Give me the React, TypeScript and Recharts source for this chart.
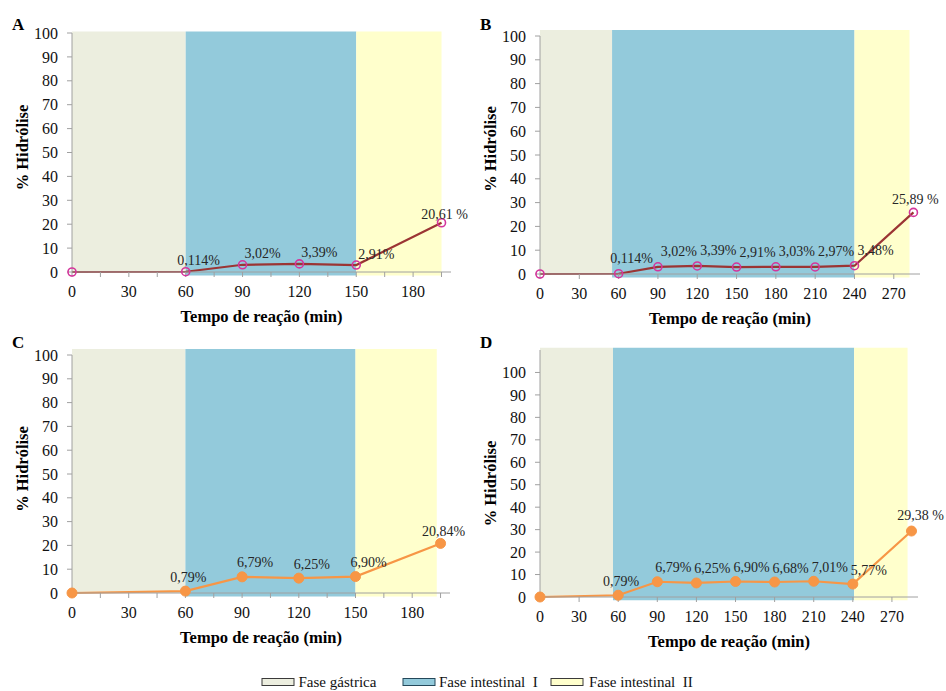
import React from 'react';
import { LineChart, Line, XAxis, YAxis, ReferenceArea } from 'recharts';

// ---------- data ----------
const timesA = [0, 60, 90, 120, 150, 195];
const hydrolysisA = [0, 0.114, 3.02, 3.39, 2.91, 20.61];
const labelsA = ['', '0,114%', '3,02%', '3,39%', '2,91%', '20,61 %'];

const timesB = [0, 60, 90, 120, 150, 180, 210, 240, 285];
const hydrolysisB = [0, 0.114, 3.02, 3.39, 2.91, 3.03, 2.97, 3.48, 25.89];
const labelsB = ['', '0,114%', '3,02%', '3,39%', '2,91%', '3,03%', '2,97%', '3,48%', '25,89 %'];

const timesC = [0, 60, 90, 120, 150, 195];
const hydrolysisC = [0, 0.79, 6.79, 6.25, 6.9, 20.84];
const labelsC = ['', '0,79%', '6,79%', '6,25%', '6,90%', '20,84%'];

const timesD = [0, 60, 90, 120, 150, 180, 210, 240, 285];
const hydrolysisD = [0, 0.79, 6.79, 6.25, 6.9, 6.68, 7.01, 5.77, 29.38];
const labelsD = ['', '0,79%', '6,79%', '6,25%', '6,90%', '6,68%', '7,01%', '5,77%', '29,38 %'];

// phase boundaries (min): gastric | intestinal I | intestinal II
const phasesA = [0, 60, 150, 195];
const phasesB = [0, 55, 240, 282];
const phasesC = [0, 60, 150, 193];
const phasesD = [0, 56, 241, 282];

const xTicksShort = [0, 15, 30, 45, 60, 75, 90, 105, 120, 135, 150, 165, 180, 195];
const xTicksLong = [0, 30, 60, 90, 120, 150, 180, 210, 240, 270];
const yTicks = [0, 10, 20, 30, 40, 50, 60, 70, 80, 90, 100];

const legendLabels = ['Fase gástrica', 'Fase intestinal  I', 'Fase intestinal  II'];
const panelLetters = ['A', 'B', 'C', 'D'];

const xTitle = 'Tempo de reação (min)';
const yTitle = '% Hidrólise';

// ---------- styles ----------
const FONT = '"Liberation Serif", "Times New Roman", serif';
const phaseFills = ['#ECEEDF', '#93CADB', '#FFFFCC'];
const phaseStrokes = ['#3a3a3a', '#24485a', '#3a3a3a'];
const AXIS = '#A0A0A0';

type PanelProps = {
  times: number[];
  values: number[];
  labels: string[];
  phases: number[];
  xTicks: number[];
  xMax: number;
  yMax: number;
  shadeTop: number;
  left: number;
  top: number;
  margin: { top: number; right: number; bottom: number; left: number };
  variant: 'red' | 'orange';
  lbl: { firstDx: number; midDx: number; lastDx: number; midDy: number; lastDy: number };
  yTitleDy: number;
};

function Panel(p: PanelProps) {
  const data = p.times.map((t, i) => ({ t, v: p.values[i] }));
  const lineColor = p.variant === 'red' ? '#9B3534' : '#F79646';
  const dot =
    p.variant === 'red'
      ? { r: 4, stroke: '#D4359C', strokeWidth: 1.6, fill: 'none' }
      : { r: 5, stroke: '#F79646', strokeWidth: 1, fill: '#F79646' };
  const n = data.length;

  const renderLabel = (props: any) => {
    const { x, y, index } = props;
    if (index === 0) return null;
    let dx = p.lbl.midDx;
    let dy = p.lbl.midDy;
    if (index === 1) dx = p.lbl.firstDx;
    if (index === n - 1) {
      dx = p.lbl.lastDx;
      dy = p.lbl.lastDy;
    }
    return (
      <text
        key={`l${index}`}
        x={x + dx}
        y={y + dy}
        textAnchor="middle"
        dominantBaseline="central"
        fontSize={14}
        fill="#262626"
        fontFamily={FONT}
        style={{ whiteSpace: 'pre' }}
      >
        {p.labels[index]}
      </text>
    );
  };

  const YLabel = (props: any) => {
    const vb = props.viewBox || {};
    const cx = vb.x + 10;
    const cy = vb.y + vb.height / 2 + p.yTitleDy;
    return (
      <text
        x={cx}
        y={cy}
        transform={`rotate(-90, ${cx}, ${cy})`}
        textAnchor="middle"
        dominantBaseline="central"
        fontSize={16.5}
        fontWeight="bold"
        fill="#000"
        fontFamily={FONT}
      >
        {yTitle}
      </text>
    );
  };

  const XLabel = (props: any) => {
    const vb = props.viewBox || {};
    return (
      <text
        x={vb.x + vb.width / 2}
        y={vb.y + vb.height}
        textAnchor="middle"
        fontSize={16.5}
        fontWeight="bold"
        fill="#000"
        fontFamily={FONT}
      >
        {xTitle}
      </text>
    );
  };

  return (
    <div style={{ position: 'absolute', left: p.left, top: p.top }}>
      <LineChart width={473} height={330} data={data} margin={p.margin}>
        {[0, 1, 2].map((k) => (
          <ReferenceArea
            key={k}
            x1={p.phases[k]}
            x2={p.phases[k + 1]}
            y1={k === 0 ? 0 : -1.5}
            y2={p.shadeTop}
            fill={phaseFills[k]}
            fillOpacity={1}
            stroke="none"
            ifOverflow="visible"
          />
        ))}
        <XAxis
          dataKey="t"
          type="number"
          domain={[0, p.xMax]}
          ticks={p.xTicks}
          interval={0}
          tickFormatter={(v: number) => (v % 30 === 0 ? String(v) : '')}
          stroke={AXIS}
          tickSize={5}
          tickMargin={9}
          tick={{ fill: '#111', fontSize: 16, fontFamily: FONT }}
          height={50}
          label={<XLabel />}
        />
        <YAxis
          type="number"
          domain={[0, p.yMax]}
          ticks={yTicks}
          interval={0}
          stroke={AXIS}
          tickSize={5}
          tickMargin={9}
          tick={{ fill: '#111', fontSize: 16, fontFamily: FONT }}
          width={60}
          label={<YLabel />}
        />
        <Line
          dataKey="v"
          type="linear"
          stroke={lineColor}
          strokeWidth={2.2}
          dot={dot}
          activeDot={false}
          isAnimationActive={false}
          label={renderLabel}
        />
      </LineChart>
    </div>
  );
}

export default function App() {
  const legendBoxX = [262, 403, 551];
  const legendTextX = [298.5, 439, 589];
  const letterPos = [
    [12, 30],
    [480, 30],
    [12, 348],
    [480, 348],
  ];
  return (
    <div
      style={{
        position: 'absolute',
        left: 0,
        top: 0,
        width: 946,
        height: 691,
        background: '#fff',
        fontFamily: FONT,
        overflow: 'hidden',
      }}
    >
      <Panel
        times={timesA}
        values={hydrolysisA}
        labels={labelsA}
        phases={phasesA}
        xTicks={xTicksShort}
        xMax={200}
        yMax={100}
        shadeTop={100.6}
        left={0}
        top={0}
        margin={{ top: 33, right: 22, bottom: 8, left: 12 }}
        variant="red"
        lbl={{ firstDx: 13, midDx: 20, lastDx: 3, midDy: -11, lastDy: -8 }}
        yTitleDy={-5}
      />
      <Panel
        times={timesB}
        values={hydrolysisB}
        labels={labelsB}
        phases={phasesB}
        xTicks={xTicksLong}
        xMax={290}
        yMax={100}
        shadeTop={102.5}
        left={473}
        top={0}
        margin={{ top: 36, right: 26, bottom: 6, left: 7 }}
        variant="red"
        lbl={{ firstDx: 13, midDx: 21, lastDx: 2, midDy: -15, lastDy: -13 }}
        yTitleDy={-6}
      />
      <Panel
        times={timesC}
        values={hydrolysisC}
        labels={labelsC}
        phases={phasesC}
        xTicks={xTicksShort}
        xMax={200}
        yMax={100}
        shadeTop={102.5}
        left={0}
        top={330}
        margin={{ top: 25, right: 23, bottom: 17, left: 12 }}
        variant="orange"
        lbl={{ firstDx: 3, midDx: 13, lastDx: 3, midDy: -14, lastDy: -12 }}
        yTitleDy={-5}
      />
      <Panel
        times={timesD}
        values={hydrolysisD}
        labels={labelsD}
        phases={phasesD}
        xTicks={xTicksLong}
        xMax={290}
        yMax={110}
        shadeTop={111}
        left={473}
        top={330}
        margin={{ top: 20, right: 28, bottom: 13, left: 7 }}
        variant="orange"
        lbl={{ firstDx: 3, midDx: 16, lastDx: 9, midDy: -14, lastDy: -16 }}
        yTitleDy={10}
      />
      <svg
        width={946}
        height={691}
        style={{ position: 'absolute', left: 0, top: 0, pointerEvents: 'none' }}
      >
        {panelLetters.map((L, i) => (
          <text
            key={L}
            x={letterPos[i][0]}
            y={letterPos[i][1]}
            fontSize={17}
            fontWeight="bold"
            fontFamily={FONT}
            fill="#000"
          >
            {L}
          </text>
        ))}
        {legendLabels.map((t, i) => (
          <g key={t}>
            <rect
              x={legendBoxX[i]}
              y={678.5}
              width={32}
              height={7}
              fill={phaseFills[i]}
              stroke={phaseStrokes[i]}
              strokeWidth={1}
            />
            <text
              x={legendTextX[i]}
              y={686.5}
              fontSize={15}
              fontFamily={FONT}
              fill="#111"
              style={{ whiteSpace: 'pre' }}
            >
              {t}
            </text>
          </g>
        ))}
      </svg>
    </div>
  );
}
